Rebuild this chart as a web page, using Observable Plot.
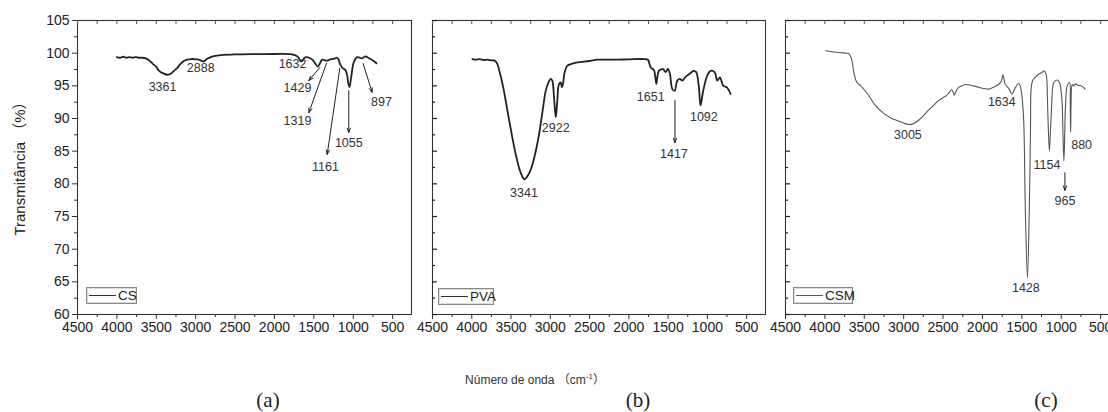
<!DOCTYPE html>
<html><head><meta charset="utf-8">
<script src="https://cdn.jsdelivr.net/npm/d3@7"></script>
<script src="https://cdn.jsdelivr.net/npm/@observablehq/plot@0.6"></script>
<style>
body{margin:0;background:#fff;overflow:hidden}
#wrap{position:relative;width:1108px;height:412px;overflow:hidden;font-family:'Liberation Sans',Arial,sans-serif;color:#222}
.pan{position:absolute;top:0;width:420px;height:350px}
.pan svg{max-width:none !important}
.legend{position:absolute;border:1px solid #888;box-sizing:border-box;height:17px;font-size:13.5px;line-height:15px;background:#fff;box-shadow:inset 0 0 0 1px #ddd}
.legend .ln{position:absolute;left:2px;top:7px;width:27px;height:0;border-top:1.5px solid #333}
.legend .tx{position:absolute;left:31px;top:0}
.cap{position:absolute;font-family:'Liberation Serif','Times New Roman',serif;font-size:21px;transform:translate(-50%,-50%)}
</style></head><body>
<div id="wrap">
  <div class="pan" id="pa" style="left:0px"></div>
  <div class="pan" id="pb" style="left:412px"></div>
  <div class="pan" id="pc" style="left:765px"></div>
  <div style="position:absolute;left:18px;top:165px;transform:translate(-50%,-50%) rotate(-90deg);white-space:nowrap;font-size:15px;font-family:'Liberation Sans',Arial,'Noto Sans CJK SC',sans-serif">Transmitância （%）</div>
  <div style="position:absolute;left:535px;top:378px;transform:translate(-50%,-50%);white-space:nowrap;font-size:12px;color:#333;font-family:'Liberation Sans Narrow','Liberation Sans',Arial,'Noto Sans CJK SC',sans-serif">Número de onda （cm<sup style="font-size:8px">-1</sup>）</div>
  <div class="cap" style="left:268px;top:400px">(a)</div>
  <div class="cap" style="left:638px;top:400px">(b)</div>
  <div class="cap" style="left:1046px;top:400px">(c)</div>
  <div class="legend" style="left:86px;top:287px;width:51px"><div class="ln"></div><div class="tx">CS</div></div>
  <div class="legend" style="left:438px;top:288px;width:56px"><div class="ln"></div><div class="tx">PVA</div></div>
  <div class="legend" style="left:793px;top:287px;width:60px"><div class="ln" style="border-top:1px solid #555"></div><div class="tx">CSM</div></div>
</div>
<script>
// ---- Data ----
const xMajorTicks = [4500, 4000, 3500, 3000, 2500, 2000, 1500, 1000, 500];
const xMinorTicks = [4250, 3750, 3250, 2750, 2250, 1750, 1250, 750];
const yMajorTicks = [60, 65, 70, 75, 80, 85, 90, 95, 100, 105];
const yMinorTicks = [62.5, 67.5, 72.5, 77.5, 82.5, 87.5, 92.5, 97.5, 102.5];

const csWn = [4000,3960,3920,3880,3840,3800,3760,3720,3680,3633,3590,3548,3500,3464,3410,3358,3310,3274,3230,3189,3150,3105,3060,3021,2960,2920,2894,2860,2809,2750,2650,2500,2300,2100,1900,1800,1740,1700,1680,1660,1640,1620,1590,1560,1520,1480,1449,1420,1394,1360,1330,1300,1267,1230,1204,1185,1170,1140,1098,1075,1064,1047,1026,993,950,920,887,845,810,781,740,705];
const csT  = [99.4,99.3,99.45,99.3,99.4,99.3,99.4,99.3,99.3,99.2,98.9,98.4,97.9,97.3,96.9,96.7,96.9,97.3,97.8,98.4,98.8,99.0,99.1,99.1,99.0,98.8,98.75,99.1,99.4,99.6,99.75,99.8,99.85,99.85,99.9,99.85,99.7,99.4,99.0,98.75,98.9,99.3,99.4,99.3,99.0,98.4,97.95,98.5,99.0,98.9,98.85,99.0,99.1,99.2,99.3,99.0,98.45,97.8,97.4,96.5,95.5,94.8,96.3,98.6,99.4,99.3,99.2,99.5,99.3,99.1,98.8,98.45];

const pvaWn = [3991,3950,3900,3850,3800,3750,3716,3680,3651,3600,3546,3490,3440,3380,3330,3270,3227,3180,3143,3100,3057,3020,2994,2975,2964,2945,2930,2912,2888,2866,2855,2840,2817,2783,2720,2655,2500,2401,2200,2000,1808,1757,1722,1680,1665,1650,1635,1617,1590,1566,1532,1502,1477,1446,1417,1383,1349,1319,1290,1256,1210,1172,1142,1108,1087,1053,1001,959,908,874,841,797,755,704];
const pvaT  = [99.1,99.0,99.1,98.95,99.0,98.9,98.9,98.5,97.4,94.8,91.2,87.5,84.5,81.8,80.7,81.6,83.0,85.3,87.6,91.0,94.3,95.6,96.05,95.8,95.0,92.0,90.2,92.5,95.3,95.5,94.8,95.2,97.1,98.1,98.4,98.6,98.8,99.0,99.0,99.05,99.1,99.0,97.8,97.4,96.5,95.3,96.5,97.3,97.5,97.6,97.1,97.6,96.8,94.5,94.25,95.8,96.05,95.8,96.2,96.6,97.0,97.3,97.1,94.8,92.0,94.25,96.6,97.3,97.1,95.8,96.3,95.0,94.8,93.75];

const csmWn = [3989,3950,3900,3840,3780,3720,3692,3661,3628,3593,3542,3500,3457,3410,3372,3300,3245,3150,3073,3000,2946,2904,2860,2818,2750,2690,2620,2563,2500,2457,2420,2393,2370,2358,2330,2307,2260,2223,2150,2052,1980,1924,1860,1796,1760,1741,1725,1712,1661,1626,1600,1584,1541,1520,1508,1478,1456,1428,1405,1390,1380,1362,1329,1285,1250,1221,1192,1175,1167,1150,1135,1124,1094,1052,1022,1000,988,966,946,924,894,885,880,875,860,840,817,790,753,720,698];
const csmT  = [100.4,100.3,100.2,100.1,100.05,100.0,99.9,99.1,96.8,95.5,95.0,94.4,93.75,92.9,92.2,91.3,90.7,90.0,89.65,89.3,89.1,89.1,89.3,89.65,90.4,91.2,92.0,92.7,93.2,93.5,94.0,94.4,94.0,93.6,94.3,94.7,95.0,95.2,95.1,94.8,94.6,94.5,94.8,95.2,95.7,96.7,96.0,95.3,94.5,93.75,94.3,94.7,95.4,95.0,94.3,90.2,76.3,65.6,76.3,88.0,94.8,95.8,96.3,96.8,97.0,97.3,96.8,93.0,89.65,85.0,88.5,91.2,95.5,95.9,95.5,94.0,92.2,83.5,91.7,95.0,95.5,92.0,87.9,92.0,95.2,95.0,95.3,95.1,95.0,94.8,94.5];

// peak labels: text, wavenumber, transmittance
const csLabels  = [["3361",3420,94.8],["2888",2936,97.8],["1632",1770,98.4],["1429",1707,94.7],["1319",1707,89.65],["1161",1352,82.6],["1055",1056,86.3],["897",642,92.6]];
const csArrows  = [[1424,97.8,1563,95.8],[1339,98.45,1563,90.9],[1170,97.7,1330,84.5],[1056,94.25,1056,87.85],[874,98.4,760,94.0]];
const pvaLabels = [["3341",3335,78.6],["2922",2931,88.6],["1651",1722,93.3],["1092",1045,90.3],["1417",1426,84.5]];
const pvaArrows = [[1413,92.8,1413,86.3]];
const csmLabels = [["3005",2946,87.5],["1634",1754,92.46],["1154",1181,82.9],["880",741,86.0],["965",953,77.4],["1428",1449,64.1]];
const csmArrows = [[953,81.7,953,79.0]];

// ---- Drawing ----
const toRows = (wn, t) => wn.map((w, i) => ({wn: w, t: t[i]}));
const blank = () => "";

function panel(el, opt) {
  const marks = [
    Plot.frame({stroke: "#333", strokeWidth: 1.1}),
    Plot.axisX(xMajorTicks, {tickSize: 5, tickPadding: 3, fontSize: 14, stroke: "#333", tickFormat: d => String(d)}),
    Plot.axisX(xMinorTicks, {tickSize: 3, tickFormat: blank, stroke: "#333"}),
    Plot.axisX(xMinorTicks.concat(xMajorTicks), {anchor: "top", tickSize: -3, tickFormat: blank, stroke: "#555"}),
    Plot.line(toRows(opt.wn, opt.t), {x: "wn", y: "t", stroke: opt.stroke, strokeWidth: opt.sw, curve: "catmull-rom"}),
    Plot.text(opt.labels, {x: d => d[1], y: d => d[2], text: d => d[0], fontSize: 12.5, fill: "#333"}),
    Plot.arrow(opt.arrows, {x1: d => d[0], y1: d => d[1], x2: d => d[2], y2: d => d[3], stroke: "#222", strokeWidth: 1, headLength: 7, headAngle: 40})
  ];
  if (opt.yLabels) {
    marks.push(Plot.axisY(yMajorTicks, {tickSize: 5, tickPadding: 3, fontSize: 14, stroke: "#333"}));
    marks.push(Plot.axisY(yMinorTicks, {tickSize: 3, tickFormat: blank, stroke: "#333"}));
  } else {
    marks.push(Plot.axisY(yMajorTicks, {tickSize: -5, tickFormat: blank, stroke: "#222", strokeWidth: 1.2}));
    marks.push(Plot.axisY(yMinorTicks, {tickSize: -3, tickFormat: blank, stroke: "#222", strokeWidth: 1.2}));
  }
  const chart = Plot.plot({
    width: opt.width, height: 350,
    marginLeft: opt.marginLeft, marginRight: 5, marginTop: 20, marginBottom: 36,
    x: {domain: [4500, 260], label: null},
    y: {domain: [60, 105], label: null},
    style: {background: "transparent", fontFamily: "'Liberation Sans', Arial, sans-serif", fontSize: "14px", color: "#222", overflow: "visible", maxWidth: "none"},
    marks
  });
  document.getElementById(el).appendChild(chart);
}

panel("pa", {width: 416, marginLeft: 77, wn: csWn, t: csT, stroke: "#222", sw: 1.8, labels: csLabels, arrows: csArrows, yLabels: true});
panel("pb", {width: 358, marginLeft: 20, wn: pvaWn, t: pvaT, stroke: "#222", sw: 1.8, labels: pvaLabels, arrows: pvaArrows, yLabels: false});
panel("pc", {width: 359, marginLeft: 20, wn: csmWn, t: csmT, stroke: "#555", sw: 1.1, labels: csmLabels, arrows: csmArrows, yLabels: false});
</script>
</body></html>
